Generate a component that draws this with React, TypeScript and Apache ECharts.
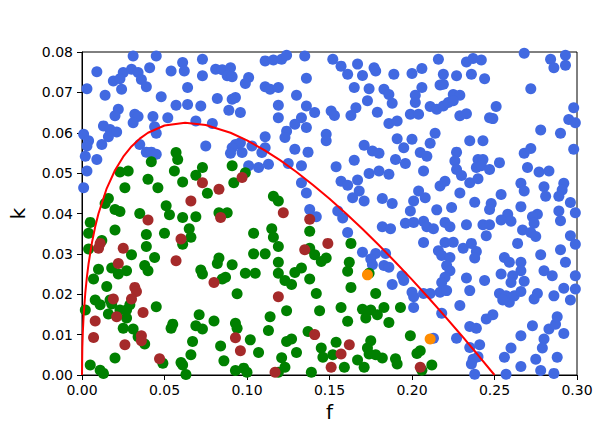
import React, { useEffect, useRef } from "react";
import * as echarts from "echarts";

const xTicks = [0, 0.05, 0.1, 0.15, 0.2, 0.25, 0.3];
const yTicks = [0, 0.01, 0.02, 0.03, 0.04, 0.05, 0.06, 0.07, 0.08];

const blueSpots: number[][] = [
  [0.031,0.079],[0.045,0.079],[0.009,0.0751],[0.025,0.0749],[0.030,0.0757],[0.034,0.0749],[0.041,0.0761],[0.054,0.0753],[0.061,0.0774],[0.062,0.0753],[0.073,0.0782],[0.073,0.0741],[0.019,0.0728],[0.023,0.0734],[0.036,0.0732],[0.039,0.0714],[0.003,0.0709],[0.024,0.0708],[0.014,0.0693],[0.048,0.0689],[0.064,0.0712],[0.057,0.0668],[0.064,0.0670],[0.072,0.0666],[0.022,0.0658],[0.020,0.0642],[0.032,0.0646],[0.034,0.0640],[0.043,0.0640],[0.031,0.0625],[0.052,0.0637],[0.069,0.0629],[0.044,0.0615],[0.045,0.0599],[0.013,0.0617],[0.017,0.0608],[0.021,0.0602],[0.016,0.0590],[0.012,0.0571],[0.001,0.0596],[0.004,0.0580],[0.003,0.0567],[0.002,0.0542],[0.009,0.0534],[0.035,0.0571],[0.039,0.0552],[0.042,0.0552],[0.045,0.0547],[0.003,0.0505],[0.001,0.0464],[0.075,0.0567],
  [0.111,0.0778],[0.116,0.0780],[0.121,0.0782],[0.124,0.0792],[0.135,0.0790],[0.081,0.0757],[0.085,0.0756],[0.090,0.0761],[0.088,0.0741],[0.091,0.0739],[0.101,0.0737],[0.099,0.0722],[0.136,0.0735],[0.111,0.0714],[0.114,0.0708],[0.119,0.0712],[0.130,0.0693],[0.082,0.0685],[0.091,0.0683],[0.093,0.0687],[0.089,0.0656],[0.096,0.0650],[0.119,0.0668],[0.136,0.0666],[0.141,0.0650],[0.119,0.0637],[0.133,0.0637],[0.129,0.0621],[0.136,0.0613],[0.124,0.0604],[0.123,0.0588],[0.148,0.0596],[0.148,0.0580],[0.111,0.0590],[0.079,0.0623],[0.093,0.0571],[0.096,0.0575],[0.091,0.0563],[0.090,0.0549],[0.097,0.0551],[0.103,0.0567],[0.109,0.0551],[0.111,0.0563],[0.129,0.0559],[0.137,0.0552],[0.101,0.0518],[0.107,0.0514],[0.113,0.0522],[0.125,0.0524],[0.133,0.0518],[0.133,0.0476],[0.136,0.0451],[0.138,0.0410],[0.142,0.0392],
  [0.152,0.0782],[0.157,0.0765],[0.161,0.0745],[0.167,0.0770],[0.170,0.0742],[0.177,0.0761],[0.178,0.0753],[0.189,0.0745],[0.200,0.0747],[0.206,0.0759],[0.216,0.0782],[0.219,0.0745],[0.165,0.0712],[0.174,0.0709],[0.183,0.0708],[0.186,0.0695],[0.188,0.0673],[0.173,0.0679],[0.206,0.0712],[0.202,0.0693],[0.202,0.0675],[0.217,0.0718],[0.219,0.0720],[0.166,0.0662],[0.163,0.0643],[0.151,0.0654],[0.153,0.0643],[0.179,0.0651],[0.186,0.0623],[0.191,0.0629],[0.199,0.0646],[0.204,0.0646],[0.211,0.0665],[0.215,0.0658],[0.219,0.0666],[0.222,0.0675],[0.191,0.0585],[0.200,0.0584],[0.214,0.0599],[0.195,0.0563],[0.211,0.0574],[0.205,0.0551],[0.209,0.0542],[0.171,0.0569],[0.176,0.0555],[0.180,0.0549],[0.190,0.0534],[0.196,0.0524],[0.165,0.0532],[0.154,0.0516],[0.174,0.0499],[0.180,0.0505],[0.186,0.0497],[0.207,0.0505],[0.157,0.0480],[0.161,0.0470],[0.167,0.0483],[0.168,0.0456],[0.164,0.0439],[0.171,0.0431],[0.182,0.0437],[0.188,0.0425],[0.204,0.0456],[0.208,0.0439],[0.201,0.0431],[0.217,0.0468],[0.220,0.0480],[0.199,0.0406],[0.215,0.0409],[0.224,0.0415],[0.155,0.0406],
  [0.233,0.0775],[0.237,0.0784],[0.242,0.0780],[0.268,0.0797],[0.284,0.0782],[0.286,0.0761],[0.293,0.0792],[0.293,0.0767],[0.227,0.0741],[0.236,0.0745],[0.244,0.0734],[0.272,0.0709],[0.225,0.0695],[0.229,0.0693],[0.225,0.0679],[0.251,0.0665],[0.229,0.0642],[0.233,0.0647],[0.247,0.0637],[0.249,0.0635],[0.298,0.0662],[0.295,0.0633],[0.299,0.0625],[0.278,0.0607],[0.290,0.0599],[0.235,0.0580],[0.243,0.0580],[0.227,0.0552],[0.268,0.0549],[0.272,0.0561],[0.298,0.0559],[0.226,0.0530],[0.240,0.0534],[0.243,0.0534],[0.239,0.0514],[0.242,0.0518],[0.247,0.0509],[0.253,0.0526],[0.227,0.0509],[0.230,0.0494],[0.235,0.0476],[0.240,0.0486],[0.270,0.0514],[0.277,0.0503],[0.283,0.0505],[0.266,0.0475],[0.268,0.0456],[0.280,0.0466],[0.281,0.0443],[0.292,0.0475],[0.291,0.0458],[0.289,0.0443],[0.229,0.0451],[0.238,0.0428],[0.248,0.0425],[0.247,0.0410],[0.254,0.0447],[0.266,0.0417],[0.258,0.0398],[0.276,0.0398],[0.289,0.0406],[0.296,0.0427],[0.299,0.0402],
  [0.158,0.0389],[0.161,0.0353],[0.182,0.0367],[0.187,0.0362],[0.196,0.0376],[0.201,0.0378],[0.207,0.0381],[0.209,0.0367],[0.213,0.0362],[0.220,0.0378],[0.223,0.0367],[0.207,0.0328],[0.220,0.0328],[0.170,0.0304],[0.178,0.0301],[0.184,0.0301],[0.175,0.0287],[0.176,0.0273],[0.183,0.0271],[0.186,0.0267],[0.216,0.0308],[0.218,0.0296],[0.223,0.0291],[0.221,0.0271],[0.223,0.0258],[0.220,0.0242],[0.218,0.0229],[0.194,0.0246],[0.195,0.0234],[0.188,0.0224],[0.200,0.0205],[0.201,0.0194],[0.207,0.0202],[0.211,0.0202],[0.217,0.0205],[0.221,0.0209],[0.201,0.0167],[0.218,0.0153],[0.213,0.0091],
  [0.254,0.0384],[0.260,0.0381],[0.273,0.0392],[0.274,0.0376],[0.290,0.0382],[0.233,0.0372],[0.243,0.0372],[0.247,0.0372],[0.245,0.0345],[0.267,0.0359],[0.272,0.0353],[0.275,0.0343],[0.296,0.0345],[0.299,0.0324],[0.225,0.0329],[0.231,0.0314],[0.236,0.0326],[0.239,0.0306],[0.238,0.0290],[0.264,0.0326],[0.278,0.0298],[0.290,0.0310],[0.293,0.0279],[0.256,0.0291],[0.259,0.0279],[0.266,0.0279],[0.266,0.0258],[0.254,0.0250],[0.261,0.0246],[0.260,0.0229],[0.268,0.0232],[0.280,0.0258],[0.285,0.0246],[0.299,0.0246],[0.233,0.0240],[0.244,0.0234],[0.235,0.0209],[0.253,0.0202],[0.257,0.0196],[0.259,0.0180],[0.255,0.0186],[0.262,0.0196],[0.266,0.0207],[0.276,0.0202],[0.274,0.0188],[0.286,0.0196],[0.292,0.0215],[0.296,0.0186],[0.299,0.0213],[0.229,0.0172],[0.245,0.0139],[0.249,0.0149],[0.235,0.0120],[0.239,0.0116],[0.227,0.0091],[0.235,0.0068],[0.241,0.0075],[0.237,0.0039],[0.240,0.0045],[0.236,0.0027],[0.238,0.0002],[0.273,0.0122],[0.266,0.0097],[0.260,0.0067],[0.256,0.0044],[0.257,0.0002],[0.280,0.0089],[0.279,0.0067],[0.275,0.0039],[0.278,0.0011],[0.266,0.0021],[0.283,0.0114],[0.287,0.0126],[0.288,0.0144],[0.292,0.0103],[0.288,0.0044],[0.286,0.0004]
];

const greenSpots: number[][] = [
  [0.057,0.0551],[0.058,0.0534],[0.042,0.0528],[0.023,0.0503],[0.028,0.0505],[0.056,0.0505],[0.069,0.0495],[0.073,0.0514],[0.040,0.0485],[0.046,0.0464],[0.061,0.0478],[0.026,0.0464],[0.016,0.0437],[0.014,0.0425],[0.051,0.0419],[0.076,0.045],
  [0.020,0.041],[0.023,0.0405],[0.035,0.0400],[0.053,0.0397],
  [0.091,0.0518],[0.099,0.0501],[0.092,0.0476],[0.116,0.0443],[0.119,0.0431],[0.083,0.0402],[0.088,0.0402],
  [0.005,0.0378],[0.004,0.0351],[0.020,0.0359],[0.061,0.0390],[0.069,0.0392],[0.065,0.0362],[0.066,0.0341],[0.061,0.0324],[0.039,0.0348],[0.039,0.0318],[0.050,0.0351],[0.004,0.0312],[0.012,0.0333],[0.030,0.0298],[0.044,0.0291],[0.010,0.0262],[0.018,0.0265],[0.022,0.0250],[0.027,0.0258],[0.038,0.0271],[0.040,0.0258],[0.007,0.0238],[0.015,0.0219],[0.072,0.0260],[0.073,0.0250],[0.008,0.0186],[0.011,0.0174],[0.017,0.0186],[0.018,0.0176],[0.002,0.0161],[0.016,0.0151],[0.023,0.0161],[0.027,0.0161],[0.029,0.0174],[0.027,0.0141],[0.045,0.0169],[0.025,0.0116],[0.031,0.0114],[0.034,0.0095],[0.038,0.0077],[0.055,0.0126],[0.054,0.0116],[0.071,0.0149],[0.069,0.0122],[0.073,0.0114],[0.067,0.0083],[0.066,0.0050],[0.020,0.0042],[0.049,0.0029],[0.060,0.0031],[0.061,0.0025],[0.005,0.0025],[0.011,0.0012],[0.013,0.0004],[0.063,0.0001],
  [0.104,0.0351],[0.115,0.0362],[0.116,0.0341],[0.119,0.0318],[0.138,0.0356],[0.138,0.0314],[0.141,0.0298],[0.145,0.0281],[0.148,0.0290],[0.104,0.0300],[0.111,0.0300],[0.119,0.0279],[0.083,0.0290],[0.082,0.0276],[0.091,0.0273],[0.099,0.0252],[0.105,0.0252],[0.119,0.0252],[0.123,0.0234],[0.127,0.0224],[0.129,0.0254],[0.133,0.0265],[0.138,0.0238],[0.085,0.0238],[0.087,0.0242],[0.094,0.0201],[0.142,0.0202],[0.124,0.0159],[0.114,0.0144],[0.144,0.0159],[0.080,0.0134],[0.093,0.0128],[0.094,0.0116],[0.113,0.0110],[0.102,0.0087],[0.084,0.0072],[0.107,0.0056],[0.086,0.0035],[0.093,0.0011],[0.098,0.0017],[0.100,0.0007],[0.121,0.0043],[0.123,0.0019],[0.119,0.0007],[0.124,0.0083],[0.127,0.0089],[0.130,0.0056],[0.137,0.0108],[0.145,0.0067],[0.146,0.0044],[0.139,0.0007],
  [0.174,0.0252],[0.163,0.0326],[0.162,0.0279],[0.161,0.0257],[0.163,0.0217],[0.178,0.0202],[0.157,0.0167],[0.170,0.0163],[0.175,0.0161],[0.183,0.0167],[0.193,0.0167],[0.179,0.0149],[0.172,0.0141],[0.186,0.0130],[0.161,0.0133],[0.199,0.0097],[0.154,0.0081],[0.175,0.0085],[0.173,0.0067],[0.174,0.0052],[0.178,0.0050],[0.182,0.0042],[0.152,0.0050],[0.167,0.0037],[0.171,0.0019],[0.159,0.0019],[0.190,0.0040],[0.191,0.0027],[0.203,0.0053],[0.205,0.0060],[0.212,0.0025],[0.206,0.0012]
];

const brownSpots: number[][] = [
  [0.073,0.0476],[0.066,0.0431],[0.083,0.0460],[0.097,0.0489],[0.122,0.0402],[0.040,0.0384],[0.060,0.0337],[0.057,0.0283],[0.011,0.0326],[0.010,0.0314],[0.025,0.0314],[0.022,0.0276],[0.032,0.0217],[0.033,0.0207],[0.030,0.0188],[0.019,0.0188],[0.021,0.0144],[0.037,0.0155],[0.008,0.0134],[0.007,0.0093],[0.026,0.0075],[0.036,0.0097],[0.036,0.0085],[0.047,0.0040],[0.084,0.0390],[0.138,0.0386],[0.149,0.0326],[0.135,0.0310],[0.080,0.0229],[0.119,0.0194],[0.141,0.0100],[0.093,0.0092],[0.096,0.0060],[0.117,0.0007],[0.162,0.0075],[0.157,0.0052],[0.151,0.0019],[0.205,0.0019]
];

const orangeSpots: number[][] = [[0.173,0.0248],[0.211,0.0089]];

const curveF = [0, 0.0002, 0.0005, 0.001, 0.002, 0.003, 0.004, 0.006, 0.008, 0.01, 0.015, 0.02, 0.025, 0.03, 0.035, 0.04, 0.05, 0.0625, 0.075, 0.09, 0.1, 0.11, 0.12, 0.13, 0.14, 0.15, 0.16, 0.17, 0.18, 0.19, 0.2, 0.21, 0.22, 0.23, 0.24, 0.25];
const curveK = [0, 0.00687, 0.01068, 0.01481, 0.02036, 0.02439, 0.02762, 0.03273, 0.03672, 0.04, 0.04624, 0.05071, 0.05406, 0.0566, 0.05854, 0.06, 0.0618, 0.0625, 0.06193, 0.06, 0.05811, 0.05583, 0.05321, 0.05028, 0.04708, 0.04365, 0.04, 0.03616, 0.03213, 0.02794, 0.02361, 0.01913, 0.01452, 0.00979, 0.00495, 0];

export default function App() {
  const ref = useRef<HTMLDivElement>(null);
  useEffect(() => {
    document.body.style.margin = "0";
    if (!ref.current) return;
    const chart = echarts.init(ref.current, null, { renderer: "svg" });
    const font = "DejaVu Sans";
    const dot = 11;
    chart.setOption({
      animation: false,
      backgroundColor: "#ffffff",
      grid: {
        left: 80,
        right: 21,
        top: 52,
        bottom: 54,
        show: true,
        borderColor: "#000",
        borderWidth: 1,
        backgroundColor: "transparent",
      },
      xAxis: {
        type: "value",
        min: xTicks[0],
        max: xTicks[xTicks.length - 1],
        interval: 0.05,
        name: "f",
        nameLocation: "middle",
        nameGap: 26,
        nameTextStyle: { fontSize: 20, color: "#000", fontFamily: font },
        axisLine: { show: true, onZero: false, lineStyle: { color: "#000", width: 1 } },
        axisTick: { show: true, inside: false, length: 5, lineStyle: { color: "#000" } },
        axisLabel: {
          fontSize: 14,
          color: "#000",
          fontFamily: font,
          margin: 8,
          formatter: (v: number) => v.toFixed(2),
        },
        splitLine: { show: false },
      },
      yAxis: {
        type: "value",
        min: yTicks[0],
        max: yTicks[yTicks.length - 1],
        interval: 0.01,
        name: "k",
        nameLocation: "middle",
        nameGap: 54,
        nameRotate: 90,
        nameTextStyle: { fontSize: 20, color: "#000", fontFamily: font },
        axisLine: { show: true, onZero: false, lineStyle: { color: "#000", width: 1 } },
        axisTick: { show: true, inside: false, length: 5, lineStyle: { color: "#000" } },
        axisLabel: {
          fontSize: 14,
          color: "#000",
          fontFamily: font,
          margin: 9,
          formatter: (v: number) => v.toFixed(2),
        },
        splitLine: { show: false },
      },
      series: [
        { type: "scatter", data: blueSpots, symbolSize: dot, itemStyle: { color: "#4169e1", opacity: 1 }, z: 2 },
        { type: "scatter", data: greenSpots, symbolSize: dot, itemStyle: { color: "#008000", opacity: 1 }, z: 3 },
        { type: "scatter", data: brownSpots, symbolSize: dot, itemStyle: { color: "#a52a2a", opacity: 1 }, z: 4 },
        { type: "scatter", data: orangeSpots, symbolSize: dot, itemStyle: { color: "#ff8c00", opacity: 1 }, z: 5 },
        {
          type: "line",
          data: curveF.map((f, i) => [f, curveK[i]]),
          showSymbol: false,
          symbol: "none",
          lineStyle: { color: "#ff0000", width: 2 },
          z: 10,
        },
      ],
    });
    return () => chart.dispose();
  }, []);
  return <div ref={ref} style={{ width: 598, height: 429 }} />;
}
